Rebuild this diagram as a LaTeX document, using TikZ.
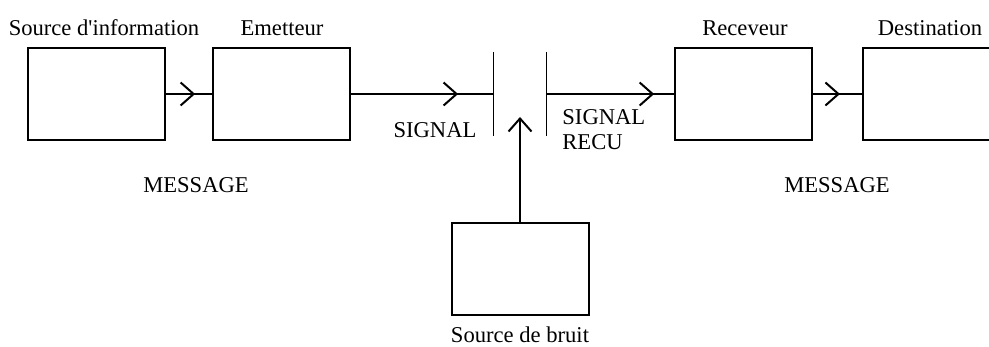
\documentclass[tikz,border=0pt]{standalone}
\usepackage{fontspec}
\setmainfont{Liberation Serif}
\usetikzlibrary{arrows.meta,decorations.markings}
\begin{document}
\begin{tikzpicture}[x=0.5pt,y=0.5pt,font=\fontsize{11.3}{12.5}\selectfont]
% Styles
\tikzstyle{boite}=[draw,line width=1pt,minimum width=68.5pt,minimum height=46pt,inner sep=0pt]
\tikzstyle{trait}=[line width=1pt]
\tikzstyle{coupure}=[line width=0.5pt]
\tikzset{fleche/.style={trait,postaction={decorate},decoration={markings,mark=at position #1 with {\arrow{Straight Barb[length=6.5pt,width=11.5pt,line width=1pt]}}}}}
% Dimensions
\def\ligne{253}
\def\Ecart{21}
% Cadre de l'image
\clip (0,0) rectangle (989,347);
% Boites de la chaine
\node[boite] (srcinfo) at (96.5,\ligne) {};
\node[boite] (emet) at (281,\ligne) {};
\node[boite] (recep) at (743.5,\ligne) {};
\node[boite] (dest) at (931.5,\ligne) {};
\node[boite] (bruit) at (520,78) {};
% Titres des boites
\node (tsrcinfo) at (104,319) {Source d\textquotesingle information};
\node (temet) at (282,319) {Emetteur};
\node (trecep) at (745,319) {Receveur};
\node (tdest) at (930,319) {Destination};
\node (tbruit) at (520,12) {Source de bruit};
% Coupure du canal
\coordinate (coupG) at (493,\ligne);
\coordinate (coupD) at (546,\ligne);
\coordinate (pointe) at (520,230);
\draw[coupure] ([yshift=\Ecart]coupG) -- ([yshift=-\Ecart]coupG);
\draw[coupure] ([yshift=\Ecart]coupD) -- ([yshift=-\Ecart]coupD);
% Liaisons
\draw[fleche=0.64] (srcinfo.east) -- (emet.west);
\draw[fleche=0.755] (emet.east) -- (coupG);
\draw[fleche=0.845] (coupD) -- (recep.west);
\draw[fleche=0.55] (recep.east) -- (dest.west);
\draw[trait,-{Straight Barb[length=6.5pt,width=11.5pt]}] (bruit.north) -- (pointe);
% Legendes
\node (signal) at (435,217) {SIGNAL};
\node[anchor=west,align=left,inner sep=0pt] (signalrecu) at (562,217) {SIGNAL\\RECU};
\node (msgG) at (196,162) {MESSAGE};
\node (msgD) at (837,162) {MESSAGE};
\end{tikzpicture}
\end{document}
